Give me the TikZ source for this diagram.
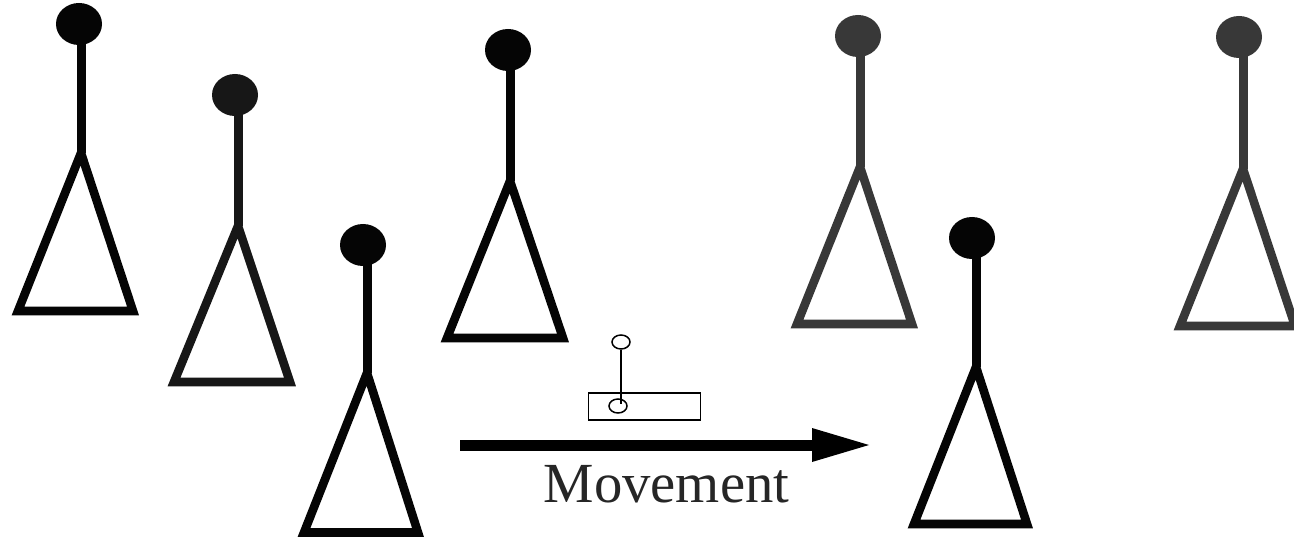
\documentclass[tikz,border=0pt]{standalone}
\usepackage{fontspec}
\setmainfont{Liberation Serif}
\usetikzlibrary{shapes.geometric}
\definecolor{figA}{gray}{0.02}
\definecolor{figB}{gray}{0.09}
\definecolor{figC}{gray}{0.22}
\tikzset{
  headball/.style={ellipse,draw=none,inner sep=0pt,minimum width=46*0.75pt,minimum height=42*0.75pt},
  stemline/.style={line width=9*0.75pt},
  bodyline/.style={line width=8.6*0.75pt,line join=miter,miter limit=4},
  smallline/.style={line width=1.7*0.75pt,draw=black},
  smallhead/.style={ellipse,draw=black,fill=white,line width=1.5*0.75pt,inner sep=0pt,minimum width=18*0.75pt,minimum height=14*0.75pt}
}
\begin{document}
\begin{tikzpicture}[x=0.75pt,y=-0.75pt]
\useasboundingbox (0,0) rectangle (1294,538);
\fill[white] (0,0) rectangle (1294,538);
\foreach \n/\hx/\hy/\sx/\ay/\lx/\rx/\by/\c in {
  a/79/24/81/153/18/133/311/figA,
  b/235/95/238/226/174/290/382/figB,
  c/363/245/367/373/304/418/532.5/figA,
  d/508/50/510/181/447/563/338/figA,
  e/858/36/860/167/797/912/324/figC,
  f/1239/37/1243/169/1180/1295/326/figC,
  g/972/238/976/367/914/1027/524/figA}{
  \node[headball,fill=\c] (\n head) at (\hx,\hy) {};
  \coordinate (\n apex) at (\sx,\ay);
  \coordinate (\n left) at (\lx,\by);
  \coordinate (\n right) at (\rx,\by);
  \draw[stemline,draw=\c] (\sx,\hy) -- (\n apex);
  \draw[bodyline,draw=\c] (\n apex) -- (\n left) -- (\n right) -- cycle;
}
% small sketch above the arrow
\node[draw=black,line width=1.5*0.75pt,minimum width=112*0.75pt,minimum height=27*0.75pt,inner sep=0pt] (box) at (644.5,406.5) {};
\node[smallhead] (tophead) at (621,342) {};
\node[smallhead] (lowhead) at (618,406) {};
\coordinate (stemend) at (621,404);
\draw[smallline] (tophead.south) -- (stemend);
% movement arrow
\coordinate (arrowstart) at (460,445);
\coordinate (arrowneck) at (815,445);
\coordinate (arrowtip) at (869,445);
\draw[line width=11*0.75pt,draw=black] (arrowstart) -- (arrowneck);
\fill[black] (812,428) -- (arrowtip) -- (812,462) -- cycle;
\node[anchor=base,inner sep=0pt,font=\fontsize{42.5pt}{44pt}\selectfont,text=black!85] (label) at (666.5,502) {Movement};
\end{tikzpicture}
\end{document}
